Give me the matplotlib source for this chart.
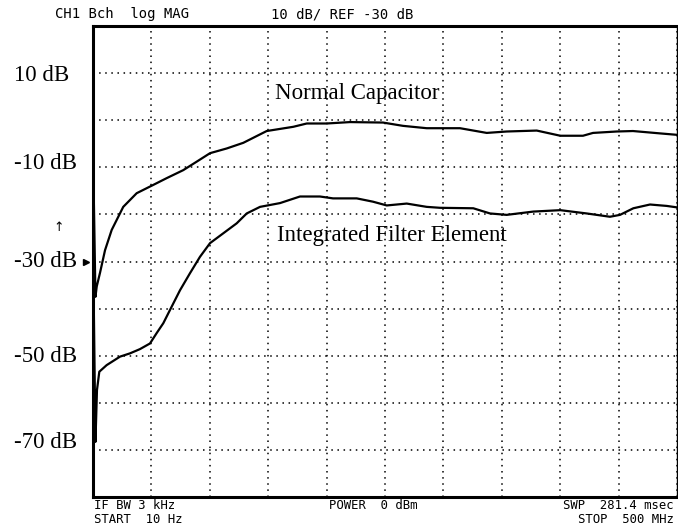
import numpy as np
import matplotlib
matplotlib.use("Agg")
import matplotlib.pyplot as plt
import matplotlib.transforms as mtransforms

# sweep 10 Hz .. 500 MHz, log magnitude in dB
normal_freq = [0.4, 2.1, 3.2, 6.0, 10.3, 16.0, 25.9, 37.4, 51.1, 63.1, 77.3, 88.8,
               100.2, 114.5, 128.7, 148.7, 171.5, 183.0, 200.1, 220.0, 248.3, 265.4,
               285.7, 314.2, 337.1, 354.2, 379.9, 400.1, 419.5, 428.1, 448.4, 462.3,
               485.4, 499.7]
normal_db = [-12.1, -37.5, -35.3, -32.4, -27.6, -23.3, -18.4, -15.5, -13.8, -12.3, -10.6, -8.8,
             -7.0, -6.0, -4.8, -2.3, -1.4, -0.7, -0.7, -0.4, -0.5, -1.2,
             -1.7, -1.7, -2.7, -2.4, -2.2, -3.3, -3.3, -2.7, -2.4, -2.3,
             -2.8, -3.1]

filter_freq = [0.4, 2.1, 3.4, 5.4, 11.7, 23.1, 31.7, 40.2, 48.8, 54.5, 60.2, 65.9,
               74.5, 83.0, 91.6, 100.2, 111.6, 123.0, 131.6, 143.0, 160.1, 177.2,
               194.3, 205.5, 225.8, 239.7, 251.5, 268.6, 285.7, 297.1, 325.6, 339.9,
               354.2, 377.0, 400.1, 422.7, 442.6, 451.2, 462.6, 476.9, 491.2, 499.7]
filter_db = [-34.0, -68.3, -57.3, -53.4, -52.0, -50.2, -49.5, -48.6, -47.4, -45.2, -43.1, -40.3,
             -36.1, -32.5, -29.0, -26.1, -24.0, -21.9, -19.8, -18.4, -17.6, -16.2,
             -16.2, -16.6, -16.6, -17.3, -18.1, -17.7, -18.4, -18.6, -18.7, -19.8,
             -20.1, -19.4, -19.1, -19.8, -20.5, -20.1, -18.7, -17.9, -18.2, -18.5]

ylabel_texts = ["10 dB", "-10 dB", "-30 dB", "-50 dB", "-70 dB"]
ylabel_pos = [9.4, -9.1, -30.1, -50.1, -68.5]

W, H = 678, 529
fig = plt.figure(figsize=(W / 100, H / 100), dpi=100)
ax = fig.add_axes([93 / W, (H - 497) / H, 584 / W, 471 / H])

ax.plot(normal_freq, normal_db, color="black", lw=1.6)
ax.plot(filter_freq, filter_db, color="black", lw=1.6)

ax.set_xlim(0, 500)
ax.set_ylim(-80, 20)
ax.set_xticks(np.arange(0, 501, 50))
ax.set_yticks(np.arange(-80, 21, 10))
ax.tick_params(length=0, labelbottom=False, labelleft=False)
ax.grid(True, color="black", linestyle=(0, (1, 3)), linewidth=1.1)
for side in ["left", "top", "bottom"]:
    ax.spines[side].set_linewidth(2.2)
ax.spines["right"].set_linewidth(1.0)

serif = "Liberation Serif"
blend = mtransforms.blended_transform_factory(fig.transFigure, ax.transData)
for t, p in zip(ylabel_texts, ylabel_pos):
    ax.text(14 / W, p, t, transform=blend, ha="left", va="center", fontsize=16.5, family=serif)

# reference level pointer and scale arrow
blend_ax = mtransforms.blended_transform_factory(ax.transAxes, ax.transData)
ax.plot([-0.012], [-30], marker=">", color="black", markersize=5, transform=blend_ax, clip_on=False)
ax.text(59 / W, -22.7, "↑", transform=blend, ha="center", va="center", fontsize=9, family="DejaVu Sans")

ax.text(155.8, 5.6, "Normal Capacitor", ha="left", va="center", fontsize=16.5, family=serif)
ax.text(157.5, -24.4, "Integrated Filter Element", ha="left", va="center", fontsize=16.5, family=serif)

mono = dict(family="DejaVu Sans Mono", fontsize=10, color="black", va="center")
fig.text(55 / W, 1 - 14 / H, "CH1 Bch  log MAG", ha="left", **mono)
fig.text(271 / W, 1 - 14 / H, "10 dB/ REF -30 dB", ha="left", **mono)

foot = dict(family="DejaVu Sans Mono", fontsize=8.8, color="black", va="center")
fig.text(94 / W, 1 - 505.5 / H, "IF BW 3 kHz", ha="left", **foot)
fig.text(94 / W, 1 - 519.5 / H, "START  10 Hz", ha="left", **foot)
fig.text(329 / W, 1 - 505.5 / H, "POWER  0 dBm", ha="left", **foot)
fig.text(674 / W, 1 - 505.5 / H, "SWP  281.4 msec", ha="right", **foot)
fig.text(674 / W, 1 - 519.5 / H, "STOP  500 MHz", ha="right", **foot)

fig.savefig("out.png", dpi=100)
